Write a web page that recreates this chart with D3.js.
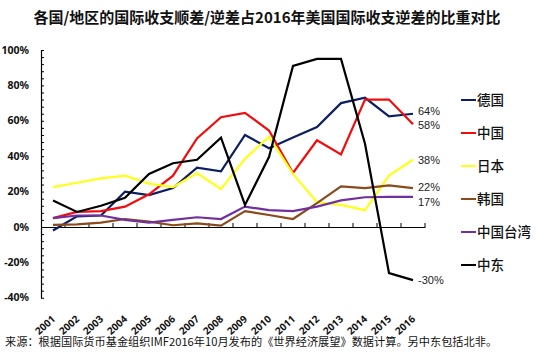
<!DOCTYPE html>
<html>
<head>
<meta charset="utf-8">
<script src="https://cdn.jsdelivr.net/npm/d3@7"></script>
<style>
  body { margin: 0; background: #fff; }
  text { font-family: "Noto Sans", "Noto Sans CJK SC", sans-serif; }
  .cjk { font-family: "Noto Sans CJK SC", sans-serif; }
  .endlab { font-family: "Liberation Sans", sans-serif; }
</style>
</head>
<body>
<script>
'use strict';

// years on the x axis
const years = ["2001","2002","2003","2004","2005","2006","2007","2008",
  "2009","2010","2011","2012","2013","2014","2015","2016"];

// share of the 2016 US deficit, in %
const germany = [-2, 6, 6.5, 20, 18, 22, 33.5, 31.5, 52, 44.5, 50.5, 56.5, 70, 73, 62.5, 64];
const china = [5, 8.5, 9, 11.5, 18.5, 29, 50, 62, 64.5, 54.5, 30.5, 49, 41, 72, 72, 58];
const japan = [22.5, 25, 27.5, 29, 24.5, 22.5, 30.5, 21.5, 38.5, 51, 30, 14, 12.5, 9.5, 29, 38];
const korea = [1.2, 1.5, 2.5, 4.5, 3, 1, 2, 0.8, 9, 6.8, 4.5, 13.5, 23, 22, 23.5, 22];
const taiwan = [5, 6.5, 6.5, 4, 2.5, 4, 5.5, 4.5, 11.5, 9.5, 9, 11.5, 15, 16.8, 17, 17];
const mideast = [15, 8.5, 12, 16.5, 30, 36, 38, 50.5, 12.5, 39.5, 91, 95, 95, 47, -26, -30];

const seriesNames = ["德国", "中国", "日本", "韩国", "中国台湾", "中东"];
const seriesColors = ["#0d1f63", "#f20c0c", "#ffff1a", "#8a4a1c", "#7030a0", "#000000"];
const endLabels = ["64%", "58%", "38%", "22%", "17%", "-30%"];

const yTicks = [-40, -20, 0, 20, 40, 60, 80, 100];

(function() {
  const allSeries = [germany, china, japan, korea, taiwan, mideast];

  const svg = d3.select("body").append("svg")
    .attr("width", 550)
    .attr("height", 352);

  // scales
  const x = d3.scaleBand().domain(years).range([41, 425]);
  const y = d3.scaleLinear().domain([-40, 100]).range([297.8, 50]);
  const xc = (d) => x(d) + x.bandwidth() / 2;

  // title
  svg.append("text")
    .attr("class", "cjk")
    .attr("x", 267)
    .attr("y", 23)
    .attr("text-anchor", "middle")
    .style("font-size", "15px")
    .style("font-weight", "bold")
    .attr("fill", "#111")
    .text("各国/地区的国际收支顺差/逆差占2016年美国国际收支逆差的比重对比");

  // y axis with minor ticks every 4%
  const yAxis = d3.axisRight(y)
    .tickValues(d3.range(-40, 101, 4))
    .tickSize(3)
    .tickSizeOuter(0)
    .tickFormat("");
  const gy = svg.append("g")
    .attr("transform", "translate(41,0)")
    .call(yAxis);
  gy.select(".domain").attr("stroke", "#000").attr("stroke-width", 1.2);
  gy.selectAll(".tick line").attr("stroke", "#000");

  // y labels
  svg.selectAll(".ylab")
    .data(yTicks)
    .enter()
    .append("text")
    .attr("class", "ylab")
    .attr("x", 29)
    .attr("y", (d) => y(d))
    .attr("dy", "0.35em")
    .attr("text-anchor", "end")
    .style("font-size", "10.5px")
    .style("font-weight", "bold")
    .attr("fill", "#111")
    .text((d) => d + "%");

  // zero line with category ticks pointing up
  const xAxis = d3.axisTop(x)
    .tickValues([])
    .tickSizeOuter(0);
  const gx = svg.append("g")
    .attr("transform", "translate(0," + y(0) + ")")
    .call(xAxis);
  gx.select(".domain").attr("stroke", "#000").attr("stroke-width", 1.2);
  gx.selectAll(".sep")
    .data(years)
    .enter()
    .append("line")
    .attr("class", "sep")
    .attr("x1", (d) => x(d) + x.bandwidth())
    .attr("x2", (d) => x(d) + x.bandwidth())
    .attr("y1", 0)
    .attr("y2", -4)
    .attr("stroke", "#000");

  // year labels, rotated
  svg.selectAll(".xlab")
    .data(years)
    .enter()
    .append("text")
    .attr("class", "xlab")
    .attr("transform", (d) => "translate(" + (xc(d) + 3) + ",320)rotate(-42)")
    .attr("text-anchor", "end")
    .style("font-size", "10px")
    .style("font-weight", "bold")
    .attr("fill", "#111")
    .text((d) => d);

  // lines
  const line = d3.line()
    .x((d, i) => xc(years[i]))
    .y((d) => y(d));

  svg.selectAll(".series")
    .data(allSeries)
    .enter()
    .append("path")
    .attr("class", "series")
    .attr("d", (d) => line(d))
    .attr("fill", "none")
    .attr("stroke", (d, i) => seriesColors[i])
    .attr("stroke-width", 2.2)
    .attr("stroke-linejoin", "miter");

  // end value labels (small offsets to keep them apart)
  const labelShift = [-3, 1, 0, -1, 5, 0];
  svg.selectAll(".endlab")
    .data(allSeries)
    .enter()
    .append("text")
    .attr("class", "endlab")
    .attr("x", 418)
    .attr("y", (d, i) => y(d[d.length - 1]) + labelShift[i])
    .attr("dy", "0.35em")
    .style("font-size", "11px")
    .attr("fill", "#222")
    .text((d, i) => endLabels[i]);

  // legend
  const legend = svg.selectAll(".legend")
    .data(seriesNames)
    .enter()
    .append("g")
    .attr("class", "legend")
    .attr("transform", (d, i) => "translate(461," + (100 + i * 33) + ")");

  legend.append("line")
    .attr("x1", 0)
    .attr("x2", 15)
    .attr("stroke", (d, i) => seriesColors[i])
    .attr("stroke-width", 2);

  legend.append("text")
    .attr("class", "cjk")
    .attr("x", 16)
    .attr("dy", "0.36em")
    .style("font-size", "13.5px")
    .style("font-weight", "500")
    .attr("fill", "#111")
    .text((d) => d);

  // source note
  svg.append("text")
    .attr("class", "cjk")
    .attr("x", 5)
    .attr("y", 346)
    .style("font-size", "11.2px")
    .attr("fill", "#111")
    .text("来源：根据国际货币基金组织IMF2016年10月发布的《世界经济展望》数据计算。另中东包括北非。");

})();
</script>
</body>
</html>
